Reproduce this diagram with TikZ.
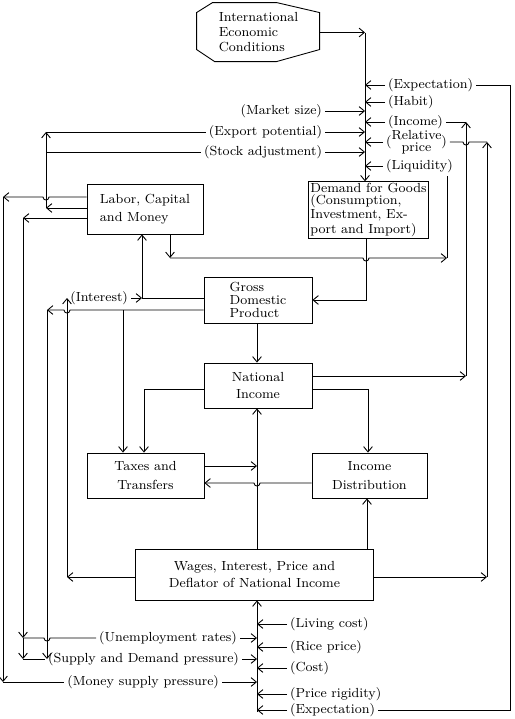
\documentclass[tikz,border=0pt]{standalone}
\usetikzlibrary{arrows.meta,positioning}

\begin{document}
\begin{tikzpicture}[
  x=0.02cm, y=-0.02cm, line width=0.5pt,
  font=\fontsize{7.5}{9}\selectfont,
  blockbox/.style={rectangle, draw, line width=0.5pt, inner sep=1pt},
  tag/.style={inner sep=1.5pt},
  arrow/.style={-{Straight Barb[length=3pt,width=5pt]}}
]
\useasboundingbox (0,0) rectangle (514,719);

% blocks
\node[align=left, minimum width=2.46cm, minimum height=1.18cm, font=\fontsize{7.5}{8.5}\selectfont] (intl) at (258.5,32.5) {International\\Economic\\Conditions};
\draw (intl.north west) ++(16,0) -- ++(64,0) -- ++(43,10) -- ++(0,37) -- ++(-43,12) -- ++(-62,0) -- ++(-18,-12) -- ++(0,-37) -- cycle;
\node[blockbox, align=left, minimum width=2.32cm, minimum height=1.0cm, font=\fontsize{7.5}{10.2}\selectfont] (labor) at (145,209) {Labor, Capital\\and Money};
\node[blockbox, align=left, minimum width=2.34cm, minimum height=1.04cm, font=\fontsize{7.5}{6.9}\selectfont] (demand) at (368.5,210) {Demand for Goods\\(Consumption,\\Investment, Ex-\\port and Import)};
\node[blockbox, align=left, minimum width=2.16cm, minimum height=0.92cm, font=\fontsize{7.5}{7.5}\selectfont] (gdp) at (258,300) {Gross\\Domestic\\Product};
\node[blockbox, align=center, minimum width=2.16cm, minimum height=0.9cm, font=\fontsize{7.5}{9.6}\selectfont] (natinc) at (258,385.5) {National\\Income};
\node[blockbox, align=center, minimum width=2.34cm, minimum height=0.9cm, font=\fontsize{7.5}{10.8}\selectfont] (taxes) at (145.5,475.5) {Taxes and\\Transfers};
\node[blockbox, align=center, minimum width=2.3cm, minimum height=0.9cm, font=\fontsize{7.5}{10.8}\selectfont] (incdist) at (369.5,475.5) {Income\\Distribution};
\node[blockbox, align=center, minimum width=4.76cm, minimum height=1.02cm, font=\fontsize{7.5}{10.2}\selectfont] (wages) at (254.5,574.5) {Wages, Interest, Price and\\Deflator of National Income};

% labels round the demand bus
\node[tag, anchor=west] (expect1) at (385,85) {(Expectation)};
\node[tag, anchor=west] (habit) at (385,102) {(Habit)};
\node[tag, anchor=west] (income) at (385,122) {(Income)};
\node[tag, anchor=west] (relprice) at (383,142) {(\begin{tabular}{@{}c@{}}Relative\\[-2pt]price\end{tabular})};
\node[tag, anchor=west] (liquid) at (383,166) {(Liquidity)};
\node[tag, anchor=east] (market) at (325,111) {(Market size)};
\node[tag, anchor=east] (export) at (325,132) {(Export potential)};
\node[tag, anchor=east] (stock) at (325,152) {(Stock adjustment)};
\node[tag, anchor=east] (interest) at (131,298) {(Interest)};

% labels round the price bus
\node[tag, anchor=west] (living) at (287,624) {(Living cost)};
\node[tag, anchor=west] (rice) at (287,647) {(Rice price)};
\node[tag, anchor=west] (cost) at (287,668) {(Cost)};
\node[tag, anchor=west] (rigid) at (287,694) {(Price rigidity)};
\node[tag, anchor=west] (expect2) at (287,710) {(Expectation)};
\node[tag, anchor=east] (unemp) at (240,638) {(Unemployment rates)};
\node[tag, anchor=east] (sdpress) at (242,659) {(Supply and Demand pressure)};
\node[tag, anchor=east] (money) at (222,682) {(Money supply pressure)};

% bus coordinates
\coordinate (topbus) at (365,33);
\coordinate (botbus) at (257,712);
\coordinate (farR) at (510,85);
\coordinate (incC) at (466,376);
\coordinate (relC) at (487,577);
\coordinate (liqC) at (447,258);
\coordinate (labC) at (170,258);
\coordinate (demC) at (366,300);
\coordinate (labI) at (142,298);
\coordinate (gdpL) at (47,310);
\coordinate (taxC) at (123,310);
\coordinate (wagL) at (67,577);
\coordinate (ntC) at (144,389);
\coordinate (ndC) at (368,389);
\coordinate (ttC) at (257,466);
\coordinate (tdC) at (257,483);
\coordinate (wdC) at (367,549);
\coordinate (lw1) at (3,197);
\coordinate (lw2) at (46,208);
\coordinate (lw3) at (23,218);
\coordinate (uC) at (23,638);
\coordinate (sC) at (23,659);
\coordinate (mC) at (3,682);

% demand bus
\draw[arrow] (intl.east) -- (intl.east -| topbus);
\draw[arrow] (topbus) -- (topbus |- demand.north);
\foreach \n in {expect1,habit,income,relprice,liquid}
  \draw[arrow] (\n.west) -- (\n.west -| topbus);
\foreach \n in {market,export,stock}
  \draw[arrow] (\n.east) -- (\n.east -| topbus);
\draw (expect1.east) -- (farR) -- (farR |- expect2.east) -- (expect2.east);

% feedback on the right
\draw[arrow] (natinc.east |- incC) -- (incC);
\draw[arrow] (incC) -- (incC |- income.east);
\draw (incC |- income.east) -- (income.east);
\draw[arrow] (wages.east |- relC) -- (relC);
\draw[arrow] (relC) -- (relC |- relprice.east);
\draw (relprice.east) -- ([xshift=-0.06cm]relprice.east -| incC) .. controls +(0,4) and +(0,4) .. ++(6,0) -- (relC |- relprice.east);
\draw[arrow] (labor.south -| labC) -- (labC);
\draw[arrow] (labC) -- ([xshift=-0.06cm]labC -| demC) .. controls +(0,4) and +(0,4) .. ++(6,0) -- (liqC);
\draw (liqC) -- (liqC |- liquid.south);

% main chain
\draw[arrow] (demand.south -| demC) -- (demC) -- (gdp.east |- demC);
\draw[arrow] (gdp.west |- labI) -- (labI) -- (labI |- labor.south);
\draw[arrow] (interest.east) -- (labI);
\draw[arrow] (gdp.west |- gdpL) -- ([xshift=0.06cm]gdpL -| wagL) .. controls +(0,4) and +(0,4) .. ++(-6,0) -- (gdpL);
\draw[arrow] (taxC) -- (taxC |- taxes.north);
\draw[arrow] (gdp.south -| botbus) -- (natinc.north -| botbus);
\draw[arrow] (natinc.west |- ntC) -- (ntC) -- (ntC |- taxes.north);
\draw[arrow] (natinc.east |- ndC) -- (ndC) -- (ndC |- incdist.north);
\draw[arrow] (taxes.east |- ttC) -- (ttC);
\draw[arrow] (incdist.west |- tdC) -- ([xshift=0.06cm]tdC) .. controls +(0,4) and +(0,4) .. ++(-6,0) -- (taxes.east |- tdC);
\draw[arrow] (wages.north -| botbus) -- (natinc.south -| botbus);
\draw[arrow] (wages.north -| wdC) -- (incdist.south -| wdC);
\draw[arrow] (wages.west |- wagL) -- (wagL);
\draw[arrow] (wagL) -- (wagL |- interest.west);

% price bus
\draw[arrow] (botbus) -- (wages.south -| botbus);
\foreach \n in {living,rice,cost,rigid,expect2}
  \draw[arrow] (\n.west) -- (\n.west -| botbus);
\foreach \n in {unemp,sdpress,money}
  \draw[arrow] (\n.east) -- (\n.east -| botbus);

% feedback on the left
\draw[arrow] (labor.west |- lw1) -- ([xshift=0.06cm]lw1 -| lw2) .. controls +(0,4) and +(0,4) .. ++(-6,0) -- (lw1);
\draw[arrow] (lw1) -- (mC);
\draw (mC) -- (money.west);
\draw[arrow] (labor.west |- lw2) -- (lw2);
\draw[arrow] (lw2) -- (lw2 |- export.west);
\draw (lw2 |- export.west) -- (export.west);
\draw (lw2 |- stock.west) -- (stock.west);
\draw[arrow] (labor.west |- lw3) -- (lw3);
\draw[arrow] (lw3) -- (uC);
\draw[arrow] (uC) -- (sC);
\draw (uC) -- ([xshift=-0.06cm]uC -| gdpL) .. controls +(0,4) and +(0,4) .. ++(6,0) -- (unemp.west);
\draw (sC) -- (sdpress.west);
\draw[arrow] (gdpL) -- (gdpL |- sC);
\end{tikzpicture}
\end{document}
